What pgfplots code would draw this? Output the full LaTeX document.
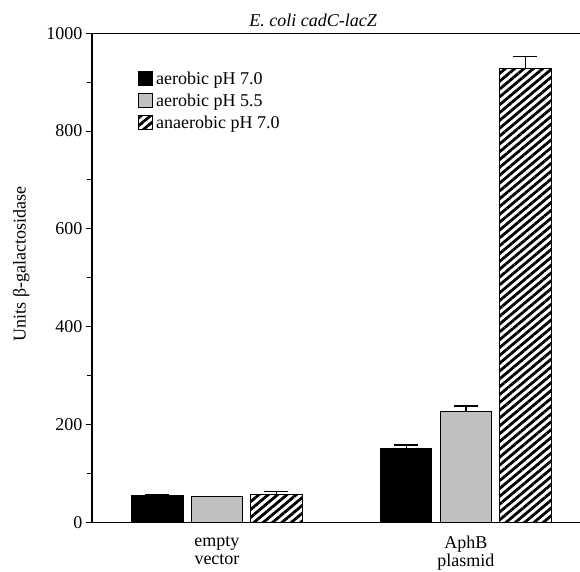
\documentclass[border=0pt]{standalone}
\usepackage{fontspec}
\setmainfont{Liberation Serif}
\usepackage{pgfplots}
\pgfplotsset{compat=1.18}
\usetikzlibrary{patterns.meta}

\definecolor{bargray}{RGB}{192,192,192}
\tikzset{hatch/.style={pattern={Lines[angle=40,distance=6pt,line width=2.8pt]}}}

\begin{document}
\begin{tikzpicture}
\useasboundingbox (-92pt,-48.7pt) rectangle (488pt,522.3pt);
\begin{axis}[
  at={(0,0)}, anchor=south west,
  scale only axis, width=488pt, height=489pt,
  xmin=-0.502, xmax=1.458,
  ymin=0, ymax=1000,
  axis y line*=left,
  axis x line*=box,
  x axis line style={line width=1.2pt},
  y axis line style={line width=1.2pt},
  ybar, bar width=0.205,
  ytick={0,200,...,1000},
  minor ytick={100,300,...,900},
  tick align=outside,
  ytick pos=left,
  xtick pos=bottom,
  major tick length=6pt, minor tick length=5pt,
  every tick/.style={black, line width=1pt},
  xtick={0,1},
  xticklabels={{empty\\vector},{AphB\\plasmid}},
  x tick label style={align=center, font=\fontsize{18}{18}\selectfont, yshift=-4.5pt},
  xtick style={draw=none},
  extra x ticks={0.5},
  extra x tick labels={},
  extra x tick style={major tick length=5pt, tick style={draw=black}},
  y tick label style={font=\fontsize{18}{20}\selectfont},
  /pgf/number format/assume math mode=true,
  /pgf/number format/1000 sep={},
  ylabel={Units β-galactosidase},
  ylabel style={font=\fontsize{18}{20}\selectfont, at={(rel axis cs:-0.145,0.528)}, anchor=center, rotate=0},
  title={\itshape E. coli cadC-lacZ},
  title style={font=\fontsize{18}{20}\selectfont, at={(rel axis cs:0.453,1)}, anchor=base, yshift=1pt},
  legend style={draw=none, fill=none, at={(rel axis cs:0.094,0.926)}, anchor=north west,
    font=\fontsize{18}{20}\selectfont, row sep=4pt, inner sep=0pt,
    nodes={inner xsep=3pt}},
  legend cell align=left,
  legend image code/.code={\draw[#1, line width=1pt] (0pt,-7pt) rectangle (14pt,7pt);},
  error bars/y dir=plus,
  error bars/y explicit,
  error bars/error mark options={rotate=90, mark size=12pt, line width=1.2pt},
  error bars/error bar style={line width=1.2pt},
]
\addplot[fill=black, draw=black, line width=1pt, bar shift=-0.239]
  coordinates {(0,54) +- (0,3) (1,150) +- (0,8)};
\addlegendentry{aerobic pH 7.0}
\addplot[fill=bargray, draw=black, line width=1pt, bar shift=0]
  coordinates {(0,53) +- (0,0.5) (1,226) +- (0,12)};
\addlegendentry{aerobic pH 5.5}
\addplot[hatch, draw=black, line width=1pt, bar shift=0.239]
  coordinates {(0,56) +- (0,7) (1,927) +- (0,26)};
\addlegendentry{anaerobic pH 7.0}
\end{axis}
\end{tikzpicture}
\end{document}
